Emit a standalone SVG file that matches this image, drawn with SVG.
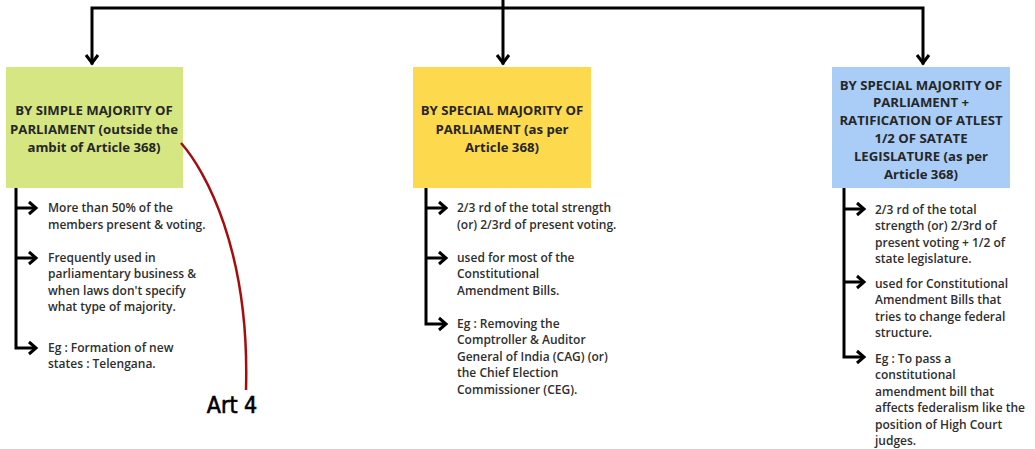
<svg xmlns="http://www.w3.org/2000/svg" width="1035" height="449" viewBox="0 0 1035 449">
<defs>
<style>
.bg{fill:#ffffff}
.line{fill:none;stroke:#000;stroke-width:3;stroke-linecap:square}
.head{fill:none;stroke:#000;stroke-width:3;stroke-linejoin:miter;stroke-linecap:butt}
.title{font-family:"Open Sans","Liberation Sans",sans-serif;font-weight:700;font-size:13.2px;fill:#262626;text-anchor:middle}
.item{font-family:"Open Sans","Liberation Sans",sans-serif;font-weight:600;font-size:12px;fill:#2e2e2e}
.green{fill:#d5e682}
.yellow{fill:#fdd94e}
.blue{fill:#a9cdf6}
.note{fill:none;stroke:#a50d0d;stroke-width:2.5}
.hand{font-family:"DejaVu Sans Condensed","DejaVu Sans",sans-serif;font-size:23px;fill:#000;stroke:#000;stroke-width:0.6}
</style>
</defs>
<rect class="bg" x="0" y="0" width="1035" height="449"/>
<g id="connectors">
<path class="line" d="M92,8 H923 M503,0 V63 M92,8 V63 M923,8 V63"/>
<path class="head" d="M86,55 L92,63 L98,55 M497,55 L503,63 L509,55 M917,55 L923,63 L929,55"/>
<path class="line" d="M16,188 V348 H34 M16,208 H34 M16,258 H34"/>
<path class="head" d="M29,202 L36,208 L29,214 M29,252 L36,258 L29,264 M29,342 L36,348 L29,354"/>
<path class="line" d="M426,188 V324 H444 M426,208 H444 M426,258 H444"/>
<path class="head" d="M439,202 L446,208 L439,214 M439,252 L446,258 L439,264 M439,318 L446,324 L439,330"/>
<path class="line" d="M844,188 V357 H862 M844,209 H862 M844,282 H862"/>
<path class="head" d="M857,203 L864,209 L857,215 M857,276 L864,282 L857,288 M857,351 L864,357 L857,363"/>
</g>
<g id="node-simple">
<rect class="green" x="6" y="67" width="177" height="121"/>
<text class="title" x="94" y="114.5">BY SIMPLE MAJORITY OF</text>
<text class="title" x="94" y="133.5">PARLIAMENT (outside the</text>
<text class="title" x="94" y="151.5">ambit of Article 368)</text>
<text class="item" x="48" y="212">More than 50% of the</text>
<text class="item" x="48" y="228.5">members present &amp; voting.</text>
<text class="item" x="48" y="261.5">Frequently used in</text>
<text class="item" x="48" y="278">parliamentary business &amp;</text>
<text class="item" x="48" y="294.5">when laws don't specify</text>
<text class="item" x="48" y="311">what type of majority.</text>
<text class="item" x="48" y="351.5">Eg : Formation of new</text>
<text class="item" x="48" y="368">states : Telengana.</text>
</g>
<g id="node-special">
<rect class="yellow" x="413" y="67" width="178" height="121"/>
<text class="title" x="502" y="114.5">BY SPECIAL MAJORITY OF</text>
<text class="title" x="502" y="133.5">PARLIAMENT (as per</text>
<text class="title" x="502" y="151.5">Article 368)</text>
<text class="item" x="457" y="212">2/3 rd of the total strength</text>
<text class="item" x="457" y="228.5">(or) 2/3rd of present voting.</text>
<text class="item" x="457" y="261.5">used for most of the</text>
<text class="item" x="457" y="278">Constitutional</text>
<text class="item" x="457" y="294.5">Amendment Bills.</text>
<text class="item" x="457" y="327.5">Eg : Removing the</text>
<text class="item" x="457" y="344">Comptroller &amp; Auditor</text>
<text class="item" x="457" y="360.5">General of India (CAG) (or)</text>
<text class="item" x="457" y="377">the Chief Election</text>
<text class="item" x="457" y="393.5">Commissioner (CEG).</text>
</g>
<g id="node-special-states">
<rect class="blue" x="832" y="67" width="178" height="121"/>
<text class="title" x="921" y="89.5">BY SPECIAL MAJORITY OF</text>
<text class="title" x="921" y="107.3">PARLIAMENT +</text>
<text class="title" x="921" y="125.1">RATIFICATION OF ATLEST</text>
<text class="title" x="921" y="142.9">1/2 OF SATATE</text>
<text class="title" x="921" y="160.7">LEGISLATURE (as per</text>
<text class="title" x="921" y="178.5">Article 368)</text>
<text class="item" x="875" y="213.5">2/3 rd of the total</text>
<text class="item" x="875" y="230">strength (or) 2/3rd of</text>
<text class="item" x="875" y="246.5">present voting + 1/2 of</text>
<text class="item" x="875" y="263">state legislature.</text>
<text class="item" x="875" y="287.5">used for Constitutional</text>
<text class="item" x="875" y="304">Amendment Bills that</text>
<text class="item" x="875" y="320.5">tries to change federal</text>
<text class="item" x="875" y="337">structure.</text>
<text class="item" x="875" y="362.5">Eg : To pass a</text>
<text class="item" x="875" y="379">constitutional</text>
<text class="item" x="875" y="395.5">amendment bill that</text>
<text class="item" x="875" y="412">affects federalism like the</text>
<text class="item" x="875" y="428.5">position of High Court</text>
<text class="item" x="875" y="445">judges.</text>
</g>
<g id="annotation">
<path class="note" d="M181,143 C205,170 250,250 246,390"/>
<text class="hand" x="232" y="413" text-anchor="middle">Art 4</text>
</g>
</svg>
